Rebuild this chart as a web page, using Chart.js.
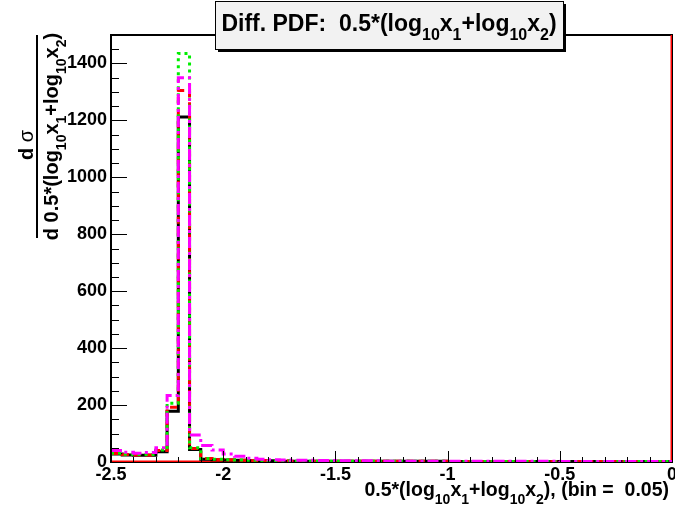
<!DOCTYPE html>
<html>
<head>
<meta charset="utf-8">
<script src="https://cdn.jsdelivr.net/npm/chart.js@4.4.1/dist/chart.umd.min.js"></script>
<style>
  html, body { margin: 0; padding: 0; background: #fff; }
</style>
</head>
<body>
<canvas id="c" width="675" height="512"></canvas>
<script>
// histogram range and binning
const xMin = -2.5, xMax = 0, binWidth = 0.05;
const yMax = 1500;
const xTicks = [-2.5, -2, -1.5, -1, -0.5, 0];
const yTicks = [0, 200, 400, 600, 800, 1000, 1200, 1400];

// bin contents (50 bins of 0.05)
const blackVals = [28, 25, 24, 24, 36, 178, 1212, 44, 10, 8,
                   7, 6, 5, 4, 4, 3, 3, 3, 3, 3,
                   3, 3, 3, 3, 3, 3, 3, 3, 3, 3,
                   2, 2, 2, 2, 2, 2, 2, 2, 2, 2,
                   2, 2, 2, 2, 2, 2, 2, 2, 2, 2];
const redVals = [30, 26, 25, 25, 40, 192, 1305, 47, 12, 9,
                 8, 6, 5, 5, 4, 4, 3, 3, 3, 3,
                 3, 3, 3, 3, 3, 3, 3, 3, 3, 3,
                 2, 2, 2, 2, 2, 2, 2, 2, 2, 2,
                 2, 2, 2, 2, 2, 2, 2, 2, 2, 2];
const greenVals = [31, 27, 26, 26, 42, 206, 1435, 50, 12, 10,
                   8, 7, 6, 5, 4, 4, 3, 3, 3, 3,
                   3, 3, 3, 3, 3, 3, 3, 3, 3, 3,
                   2, 2, 2, 2, 2, 2, 2, 2, 2, 2,
                   2, 2, 2, 2, 2, 2, 2, 2, 2, 2];
const magentaVals = [40, 34, 31, 33, 50, 234, 1350, 95, 58, 42,
                     28, 20, 13, 10, 8, 7, 6, 6, 5, 5,
                     4, 4, 4, 4, 3, 3, 3, 3, 3, 3,
                     3, 3, 3, 3, 3, 3, 3, 3, 3, 3,
                     2, 2, 2, 2, 2, 2, 2, 2, 2, 2];
// solid red reference line along the bottom, closing up the right edge
const redBaseVals = [0, 0, 0, 0, 0, 0, 0, 0, 0, 0,
                     0, 0, 0, 0, 0, 0, 0, 0, 0, 0,
                     0, 0, 0, 0, 0, 0, 0, 0, 0, 0,
                     0, 0, 0, 0, 0, 0, 0, 0, 0, 0,
                     0, 0, 0, 0, 0, 0, 0, 0, 0, 0];
const redBaseEdge = 1500;

const FONT = "'Liberation Sans', Arial, Helvetica, sans-serif";

// step outline: one point per bin edge, last edge repeats the last bin
function steps(vals, lastVal) {
  const pts = vals.map((v, i) => ({ x: xMin + i * binWidth, y: v }));
  pts.push({ x: xMax, y: lastVal === undefined ? vals[vals.length - 1] : lastVal });
  return pts;
}

function hist(data, color, dash, order, width) {
  return {
    data: data,
    borderColor: color,
    borderWidth: width || 3,
    borderDash: dash,
    stepped: 'before',
    pointRadius: 0,
    fill: false,
    order: order
  };
}

// draw text with subscripts; parts = [[text, isSub], ...]
function richText(ctx, parts, x, y, size, align) {
  const subSize = Math.round(size * 0.7);
  const fontFor = p => 'bold ' + (p[1] ? subSize : size) + 'px ' + FONT;
  let total = 0;
  parts.forEach(p => { ctx.font = fontFor(p); total += ctx.measureText(p[0]).width; });
  let cx = align === 'right' ? x - total : align === 'center' ? x - total / 2 : x;
  ctx.textAlign = 'left';
  ctx.textBaseline = 'alphabetic';
  parts.forEach(p => {
    ctx.font = fontFor(p);
    ctx.fillText(p[0], cx, y + (p[1] ? size * 0.4 : 0));
    cx += ctx.measureText(p[0]).width;
  });
}

const logExpr = [['log', 0], ['10', 1], ['x', 0], ['1', 1], ['+log', 0], ['10', 1], ['x', 0], ['2', 1], [')', 0]];

const decor = {
  id: 'decor',
  beforeDatasetsDraw(chart) {
    // frame goes under the histograms
    const ctx = chart.ctx, a = chart.chartArea;
    ctx.save();
    ctx.strokeStyle = '#000';
    ctx.lineWidth = 2;
    ctx.strokeRect(a.left, a.top, a.right - a.left, a.bottom - a.top);
    ctx.restore();
  },
  afterDatasetsDraw(chart) {
    const ctx = chart.ctx, a = chart.chartArea;
    const xs = chart.scales.x, ys = chart.scales.y;
    ctx.save();
    ctx.strokeStyle = '#000';
    ctx.lineWidth = 1;
    // y ticks, inward
    for (let v = 0; v < yMax; v += 50) {
      const py = Math.round(ys.getPixelForValue(v)) + 0.5;
      const len = v % 200 === 0 ? 16 : 8;
      ctx.beginPath(); ctx.moveTo(a.left, py); ctx.lineTo(a.left + len, py); ctx.stroke();
    }
    // x ticks, inward
    for (let i = 0; i <= 25; i++) {
      const v = xMin + i * 0.1;
      const px = Math.round(xs.getPixelForValue(v)) + 0.5;
      const len = i % 5 === 0 ? 11 : 5;
      ctx.beginPath(); ctx.moveTo(px, a.bottom); ctx.lineTo(px, a.bottom - len); ctx.stroke();
    }
    // left axis line on top
    ctx.lineWidth = 2;
    ctx.beginPath(); ctx.moveTo(a.left, a.top); ctx.lineTo(a.left, a.bottom); ctx.stroke();
    ctx.restore();
  },
  afterDraw(chart) {
    const ctx = chart.ctx;
    ctx.save();

    // title box with shadow
    const bx = 215, by = 1, bw = 348, bh = 48;
    ctx.fillStyle = '#000';
    ctx.fillRect(bx + 3, by + 3, bw, bh);
    ctx.fillStyle = '#f2f2f2';
    ctx.fillRect(bx, by, bw, bh);
    ctx.strokeStyle = '#000';
    ctx.lineWidth = 1;
    ctx.strokeRect(bx + 0.5, by + 0.5, bw, bh);
    ctx.fillStyle = '#000';
    richText(ctx, [['Diff. PDF:  0.5*(', 0]].concat(logExpr), bx + bw / 2, 31, 23, 'center');

    // x axis title
    richText(ctx, [['0.5*(', 0]].concat(logExpr).concat([[', (bin =  0.05)', 0]]), 669, 496, 19.5, 'right');

    // y axis title: fraction, rotated
    ctx.save();
    ctx.fillRect(36, 35, 2, 203);
    ctx.translate(58, 136.5);
    ctx.rotate(-Math.PI / 2);
    richText(ctx, [['d 0.5*(', 0]].concat(logExpr), 0, 0, 20, 'center');
    ctx.restore();

    ctx.save();
    ctx.translate(33, 145);
    ctx.rotate(-Math.PI / 2);
    ctx.textBaseline = 'alphabetic';
    ctx.font = 'bold 20px ' + FONT;
    const dW = ctx.measureText('d ').width;
    ctx.font = '20px ' + FONT;
    const sW = ctx.measureText('\u03c3').width;
    ctx.font = 'bold 20px ' + FONT;
    ctx.textAlign = 'left';
    ctx.fillText('d ', -(dW + sW) / 2, 0);
    ctx.font = '20px ' + FONT;
    ctx.fillText('\u03c3', -(dW + sW) / 2 + dW, 0);
    ctx.restore();

    ctx.restore();
  }
};

new Chart(document.getElementById('c'), {
  type: 'line',
  data: {
    datasets: [
      hist(steps(redBaseVals, redBaseEdge), '#ff0000', [], 5, 3),
      hist(steps(blackVals), '#000000', [], 4),
      hist(steps(redVals), '#ff0000', [7, 5], 3),
      hist(steps(greenVals), '#00ee00', [3, 4], 2),
      hist(steps(magentaVals), '#ff00ff', [11, 4, 3, 4], 1)
    ]
  },
  options: {
    responsive: false,
    animation: false,
    devicePixelRatio: 1,
    layout: { padding: { left: 0, right: 3, top: 35, bottom: 0 } },
    plugins: { legend: { display: false }, tooltip: { enabled: false }, title: { display: false } },
    scales: {
      x: {
        type: 'linear',
        min: xMin,
        max: xMax,
        grid: { display: false, drawTicks: false },
        border: { display: false },
        afterBuildTicks: s => { s.ticks = xTicks.map(v => ({ value: v })); },
        afterFit: s => { s.height = 50; s.paddingLeft = 0; s.paddingRight = 0; },
        ticks: {
          autoSkip: false,
          maxRotation: 0,
          padding: 2,
          color: '#000',
          font: { family: FONT, size: 18, weight: 'bold' },
          callback: v => String(v)
        }
      },
      y: {
        min: 0,
        max: yMax,
        grid: { display: false, drawTicks: false },
        border: { display: false },
        afterBuildTicks: s => { s.ticks = yTicks.map(v => ({ value: v })); },
        afterFit: s => { s.width = 111; s.paddingTop = 0; s.paddingBottom = 0; },
        ticks: {
          padding: 4,
          color: '#000',
          font: { family: FONT, size: 18, weight: 'bold' },
          callback: v => String(v)
        }
      }
    }
  },
  plugins: [decor]
});
</script>
</body>
</html>
